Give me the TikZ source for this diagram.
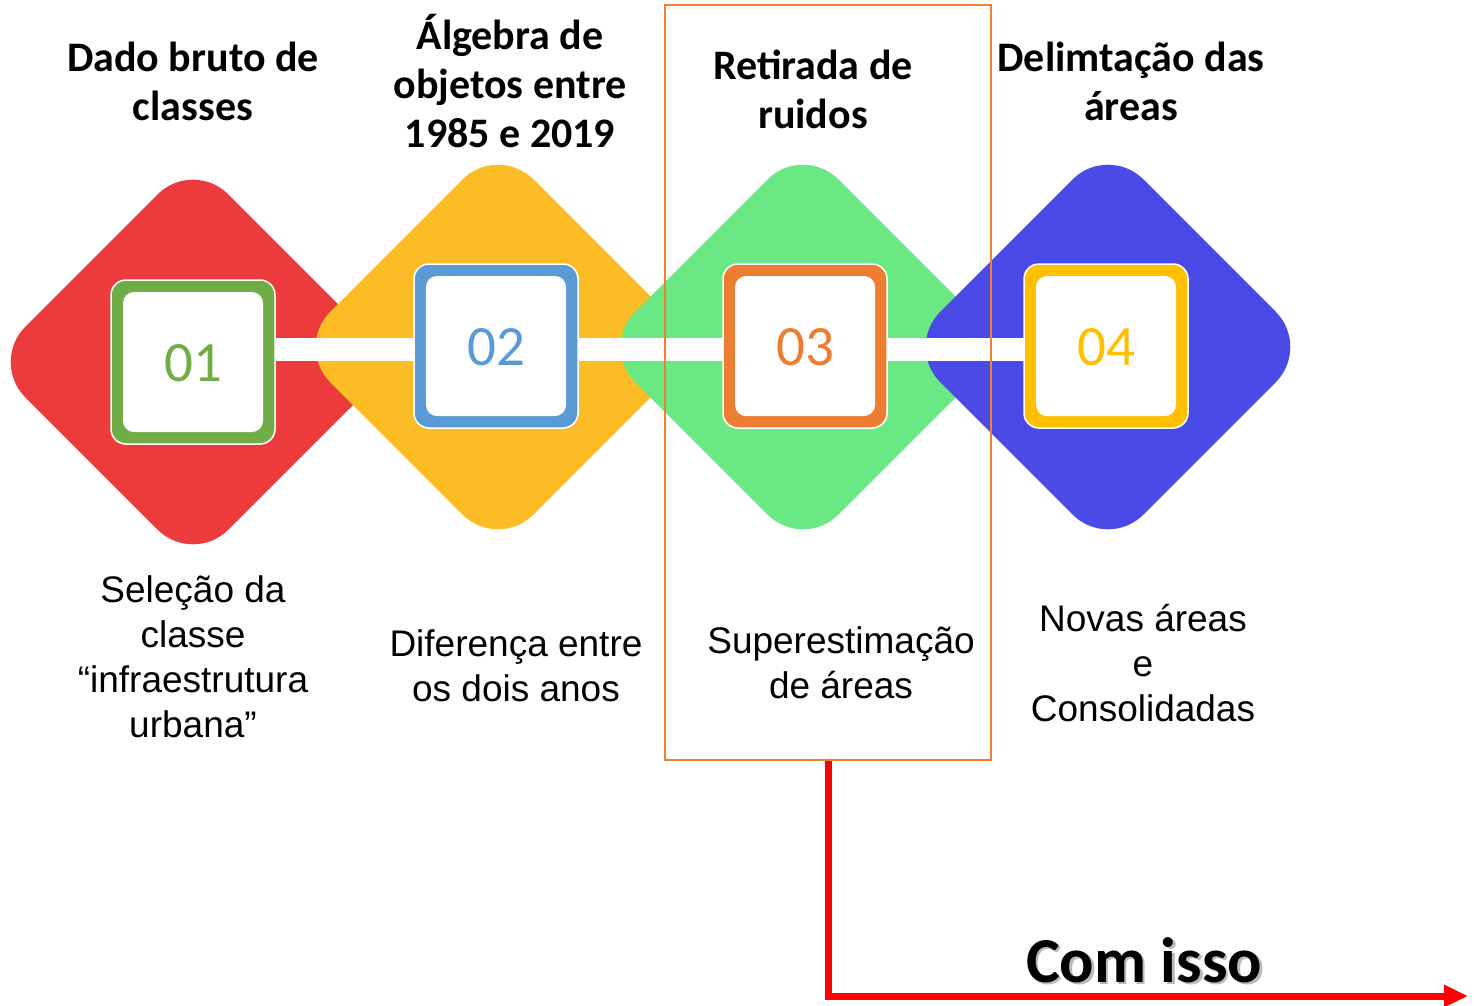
\documentclass[tikz,border=0pt]{standalone}
\usepackage{fontspec}
\setmainfont{Carlito}
\newfontfamily\descfont{Liberation Sans}
\usetikzlibrary{arrows.meta}
\definecolor{cred}{HTML}{EC3B3C}
\definecolor{cyellow}{HTML}{FBBC25}
\definecolor{cgreen}{HTML}{6AE883}
\definecolor{cblue}{HTML}{4A4AE6}
\definecolor{bgreen}{HTML}{70AD47}
\definecolor{bblue}{HTML}{5B9BD5}
\definecolor{borange}{HTML}{ED7D31}
\definecolor{bgold}{HTML}{FFC000}
\definecolor{frameor}{HTML}{F08032}
\tikzset{
  diam/.style={fill=#1, rounded corners=50pt},
  boxouter/.style={fill=#1, draw=white, line width=1.5pt, rounded corners=15pt},
  boxinner/.style={fill=white, rounded corners=11pt},
  num/.style={font=\fontsize{57}{60}\selectfont, text=#1, inner sep=0pt},
  head/.style={font=\bfseries\fontsize{42}{49}\selectfont, align=center, anchor=base, inner sep=0pt},
  desc/.style={font=\descfont\fontsize{37}{45}\selectfont, align=center, anchor=base, inner sep=0pt},
}
\begin{document}
\begin{tikzpicture}[x=1pt,y=-1pt]
\useasboundingbox (0,0) rectangle (1474,1005);
% diamonds
\foreach \cx/\cy/\col in {193/362/cred, 498/347/cyellow, 803/347/cgreen, 1108/347/cblue}{
  \fill[diam=\col] (\cx-203,\cy) -- (\cx,\cy-203) -- (\cx+203,\cy) -- (\cx,\cy+203) -- cycle;
}
% white connecting bar
\fill[white] (193,338) rectangle (1108,361);
% squares
\foreach \cx/\cy/\col/\n [count=\i] in {193/362/bgreen/01, 496/346/bblue/02, 805/346/borange/03, 1106/346/bgold/04}{
  \draw[boxouter=\col] (\cx-82,\cy-82) rectangle (\cx+82,\cy+82);
  \fill[boxinner] (\cx-70,\cy-70) rectangle (\cx+70,\cy+70);
  \node[num=\col] (n\i) at (\cx,\cy+1) {\n};
}
% headers (anchor = baseline of last line)
\node[head] (h1) at (193,120) {Dado bruto de\\classes};
\node[head] (h2) at (510,147) {Álgebra de\\objetos entre\\1985 e 2019};
\node[head] (h3) at (813,128) {Retirada de\\ruidos};
\node[head] (h4) at (1131,120) {Delimtação das\\áreas};
% descriptions
\node[desc] (d1) at (193,737) {Seleção da\\classe\\“infraestrutura\\urbana”};
\node[desc] (d2) at (516,701) {Diferença entre\\os dois anos};
\node[desc] (d3) at (841,698) {Superestimação\\de áreas};
\node[desc] (d4) at (1143,721) {Novas áreas\\e\\Consolidadas};
% orange frame
\node[draw=frameor, line width=2.5pt, minimum width=326pt, minimum height=755pt, inner sep=0pt] (frame) at (828,382.5) {};
% red arrow
\coordinate (corner) at (828,996);
\coordinate (tip) at (1468,996);
\draw[red, line width=7pt, -{Triangle[length=24pt,width=21pt]}] (frame.south -| corner) -- (corner) -- (tip);
% Com isso
\node[font=\bfseries\fontsize{64}{66}\selectfont, text=black!45, opacity=0.6, anchor=base, inner sep=0pt] (shadow) at (1146.5,984.5) {Com isso};
\node[font=\bfseries\fontsize{64}{66}\selectfont, anchor=base, inner sep=0pt] (comisso) at (1144,982) {Com isso};
\end{tikzpicture}
\end{document}
